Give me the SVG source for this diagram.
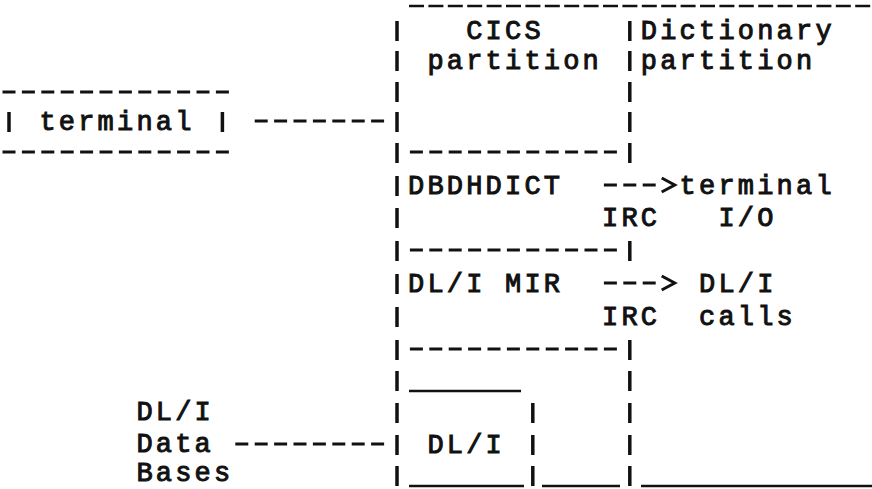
<svg xmlns="http://www.w3.org/2000/svg" width="872" height="489" viewBox="0 0 872 489">
<style>
  .t { font-family: "Liberation Mono", "Courier New", monospace; font-size: 27px; font-weight: normal; letter-spacing: 3.2px; fill: #111; stroke: #111; stroke-width: 1; }
  .d { stroke: #111; stroke-width: 3; stroke-dasharray: 13 6.4; fill: none; }
  .top { stroke: #111; stroke-width: 2.5; stroke-dasharray: 15 4.4; fill: none; }
  .u { stroke: #111; stroke-width: 2.5; fill: none; }
</style>
<defs>
  <line id="bar" x1="0" y1="-10" x2="0" y2="10" stroke="#111" stroke-width="3.5"/>
  <marker id="chev" viewBox="-8 -10 25 20" markerWidth="25" markerHeight="20" refX="-6" refY="0" orient="auto" markerUnits="userSpaceOnUse">
    <path d="M0,-7 L13,0 L0,7" fill="none" stroke="#111" stroke-width="3"/>
  </marker>
</defs>
<rect width="872" height="489" fill="#fff"/>

<g id="terminal">
  <line class="d" x1="2.5" y1="92" x2="228.9" y2="92"/>
  <use href="#bar" x="9" y="122"/>
  <text class="t" x="39.4" y="130">terminal</text>
  <use href="#bar" x="222.4" y="122"/>
  <line class="d" x1="2.5" y1="152" x2="228.9" y2="152"/>
</g>

<g id="cics-partition">
  <line class="top" x1="409" y1="6" x2="872" y2="6"/>
  <use href="#bar" x="397" y="31"/>
  <use href="#bar" x="397" y="61"/>
  <use href="#bar" x="397" y="92"/>
  <use href="#bar" x="397" y="122"/>
  <use href="#bar" x="397" y="153"/>
  <use href="#bar" x="397" y="186"/>
  <use href="#bar" x="397" y="218"/>
  <use href="#bar" x="397" y="251"/>
  <use href="#bar" x="397" y="284"/>
  <use href="#bar" x="397" y="317"/>
  <use href="#bar" x="397" y="350"/>
  <use href="#bar" x="397" y="381"/>
  <use href="#bar" x="397" y="413"/>
  <use href="#bar" x="397" y="445"/>
  <use href="#bar" x="397" y="476"/>
  <use href="#bar" x="629.8" y="31"/>
  <use href="#bar" x="629.8" y="61"/>
  <use href="#bar" x="629.8" y="92"/>
  <use href="#bar" x="629.8" y="122"/>
  <use href="#bar" x="629.8" y="153"/>
  <use href="#bar" x="629.8" y="251"/>
  <use href="#bar" x="629.8" y="350"/>
  <use href="#bar" x="629.8" y="381"/>
  <use href="#bar" x="629.8" y="413"/>
  <use href="#bar" x="629.8" y="445"/>
  <use href="#bar" x="629.8" y="476"/>
  <text class="t" x="466.2" y="39">CICS</text>
  <text class="t" x="427.4" y="69">partition</text>
  <line class="d" x1="409.9" y1="152" x2="616.9" y2="152"/>
</g>

<g id="dictionary-partition">
  <text class="t" x="640.8" y="39">Dictionary</text>
  <text class="t" x="640.8" y="69">partition</text>
  <line class="u" x1="641" y1="486" x2="872" y2="486"/>
</g>

<g id="dbdhdict">
  <text class="t" x="408" y="194">DBDHDICT</text>
  <line class="d" x1="409.9" y1="250" x2="616.9" y2="250"/>
</g>

<g id="dli-mir">
  <text class="t" x="408" y="292">DL/I MIR</text>
  <line class="d" x1="409.9" y1="349" x2="616.9" y2="349"/>
</g>

<g id="dli">
  <line class="u" x1="409" y1="391" x2="521" y2="391"/>
  <use href="#bar" x="532.8" y="413"/>
  <use href="#bar" x="532.8" y="445"/>
  <use href="#bar" x="532.8" y="476"/>
  <text class="t" x="427.4" y="453">DL/I</text>
  <line class="u" x1="409" y1="486" x2="524" y2="486"/>
  <line class="u" x1="542" y1="486" x2="620" y2="486"/>
</g>

<g id="terminal-io">
  <text class="t" x="679.6" y="194">terminal</text>
  <text class="t" x="718.4" y="226">I/O</text>
</g>

<g id="dli-calls">
  <text class="t" x="699" y="292">DL/I</text>
  <text class="t" x="699" y="325">calls</text>
</g>

<g id="dli-data-bases">
  <text class="t" x="136.4" y="420">DL/I</text>
  <text class="t" x="136.4" y="452">Data</text>
  <text class="t" x="136.4" y="481">Bases</text>
</g>

<g id="connectors">
  <line class="d" x1="254.7" y1="121" x2="384.1" y2="121"/>
  <line class="d" x1="235.3" y1="444" x2="384.1" y2="444"/>
  <line class="d" x1="603.9" y1="185" x2="655.7" y2="185" marker-end="url(#chev)"/>
  <text class="t" x="602" y="226">IRC</text>
  <line class="d" x1="603.9" y1="283" x2="655.7" y2="283" marker-end="url(#chev)"/>
  <text class="t" x="602" y="325">IRC</text>
</g>
</svg>
